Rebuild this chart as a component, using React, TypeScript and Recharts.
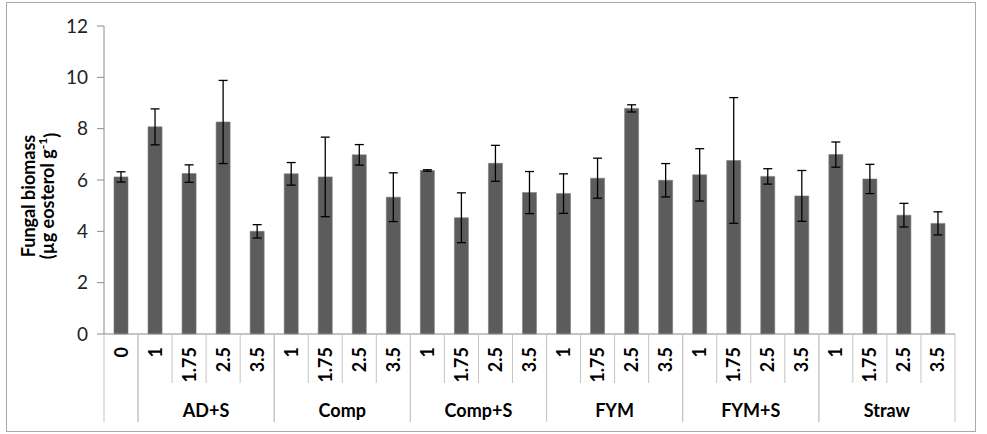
import { Bar, BarChart, ErrorBar, XAxis, YAxis } from "recharts";

const doses = [
  "0",
  "1", "1.75", "2.5", "3.5",
  "1", "1.75", "2.5", "3.5",
  "1", "1.75", "2.5", "3.5",
  "1", "1.75", "2.5", "3.5",
  "1", "1.75", "2.5", "3.5",
  "1", "1.75", "2.5", "3.5"
];

const groups = [
  "",
  "AD+S", "AD+S", "AD+S", "AD+S",
  "Comp", "Comp", "Comp", "Comp",
  "Comp+S", "Comp+S", "Comp+S", "Comp+S",
  "FYM", "FYM", "FYM", "FYM",
  "FYM+S", "FYM+S", "FYM+S", "FYM+S",
  "Straw", "Straw", "Straw", "Straw"
];

const biomass = [
  6.12,
  8.07, 6.25, 8.26, 4.0,
  6.24, 6.12, 6.98, 5.33,
  6.37, 4.53, 6.65, 5.51,
  5.47, 6.07, 8.79, 5.99,
  6.2, 6.76, 6.14, 5.38,
  6.99, 6.04, 4.63, 4.31
];

const biomassErr = [
  0.2,
  0.7, 0.34, 1.62, 0.26,
  0.44, 1.55, 0.4, 0.95,
  0.03, 0.97, 0.7, 0.82,
  0.77, 0.78, 0.14, 0.65,
  1.02, 2.45, 0.3, 0.99,
  0.49, 0.57, 0.46, 0.45
];

const yTicks = [0, 2, 4, 6, 8, 10, 12];

const chartData = doses.map((dose, i) => ({
  key: `${groups[i] || "ctrl"}-${dose}`,
  dose,
  group: groups[i],
  biomass: biomass[i],
  err: biomassErr[i]
}));

const CHART_W = 987;
const CHART_H = 434;
const margin = { top: 26, right: 32, left: 44, bottom: 10 };
const Y_AXIS_W = 60;
const BAND = (CHART_W - margin.left - margin.right - Y_AXIS_W) / chartData.length;
const FONT = "Lato, 'Open Sans', sans-serif";
const SEP = "#c4c4c4";

function CategoryTick(props: any) {
  const { x, y, index } = props;
  const i: number = props.payload?.index ?? index;
  const half = BAND / 2;
  const group = groups[i];
  const groupStart = i === 0 || groups[i - 1] !== group;
  const groupEnd = i === groups.length - 1 || groups[i + 1] !== group;
  let start = i;
  while (start > 0 && groups[start - 1] === group) start--;
  const groupCenter = x + half - ((i - start + 1) * BAND) / 2;

  return (
    <g>
      <text
        transform={`translate(${x},${y + 13}) rotate(-90)`}
        textAnchor="end"
        dy="0.36em"
        fontFamily={FONT}
        fontWeight="bold"
        fontSize={18}
        fill="#000"
      >
        {doses[i]}
      </text>
      <line x1={x - half} x2={x - half} y1={y} y2={y + (groupStart ? 88 : 49)} stroke={SEP} />
      {groupEnd && <line x1={x + half} x2={x + half} y1={y} y2={y + 88} stroke={SEP} />}
      {group && groupEnd && (
        <text x={groupCenter} y={y + 83} textAnchor="middle" fontFamily={FONT} fontWeight="bold" fontSize={18} fill="#000">
          {group}
        </text>
      )}
    </g>
  );
}

function YLabel() {
  const cy = 196;
  return (
    <g fontFamily={FONT} fontWeight="bold" fontSize={18} fill="#000">
      <text transform={`translate(29,${cy}) rotate(-90)`} textAnchor="middle" dy="0.36em">
        Fungal biomass
      </text>
      <text transform={`translate(48,${cy}) rotate(-90)`} textAnchor="middle" dy="0.36em">
        (µg eosterol g
        <tspan fontSize={12} dy="-0.6em">-1</tspan>
        <tspan dy="0.6em">)</tspan>
      </text>
    </g>
  );
}

export default function App() {
  return (
    <div style={{ position: "relative", width: CHART_W, height: CHART_H, background: "#fff" }}>
      <style>{"body{margin:0;background:#fff}"}</style>
      <div
        style={{
          position: "absolute",
          left: 6,
          top: 2,
          width: 970,
          height: 430,
          border: "1px solid #a9a9a9",
          boxSizing: "border-box"
        }}
      />
      <div style={{ position: "absolute", left: 0, top: 0 }}>
        <BarChart width={CHART_W} height={CHART_H} data={chartData} margin={margin}>
          <XAxis
            dataKey="key"
            interval={0}
            tickLine={false}
            tickSize={0}
            tickMargin={0}
            height={90}
            stroke="#8a8a8a"
            tick={<CategoryTick />}
          />
          <YAxis
            width={Y_AXIS_W}
            domain={[0, 12]}
            ticks={yTicks}
            interval={0}
            stroke="#8a8a8a"
            tickSize={7}
            tickMargin={9}
            tick={{ fontFamily: FONT, fontSize: 19, fill: "#222" }}
          />
          <Bar dataKey="biomass" fill="#5c5c5c" stroke="#7a7a7a" strokeWidth={0.6} barSize={14} isAnimationActive={false}>
            <ErrorBar dataKey="err" direction="y" width={4.5} stroke="#000" strokeWidth={1.3} />
          </Bar>
        </BarChart>
      </div>
      <svg width={CHART_W} height={CHART_H} style={{ position: "absolute", left: 0, top: 0, pointerEvents: "none" }}>
        <YLabel />
      </svg>
    </div>
  );
}
